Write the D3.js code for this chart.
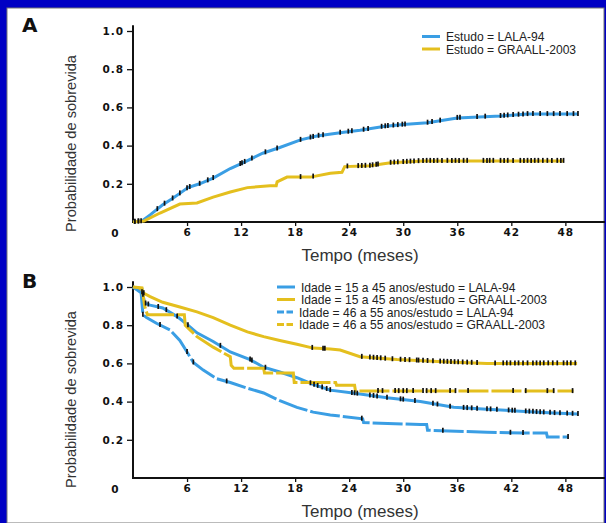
<!DOCTYPE html>
<html><head><meta charset="utf-8">
<script src="https://cdn.jsdelivr.net/npm/d3@7"></script>
<style>
html,body{margin:0;padding:0;background:#0000c4;}
svg{display:block;}
.tick text{font-family:"DejaVu Sans",sans-serif;font-weight:bold;font-size:10.5px;letter-spacing:1px;fill:#111;}
</style></head>
<body>
<svg id="c" width="606" height="523"></svg>
<script>
// ---------- DATA ----------
const xTickValues = [6, 12, 18, 24, 30, 36, 42, 48];
const yTickValues = [0.2, 0.4, 0.6, 0.8, 1.0];
const originLabel = "0";
const xTitle = "Tempo (meses)";
const yTitle = "Probabilidade de sobrevida";

const legendA = ["Estudo = LALA-94", "Estudo = GRAALL-2003"];
const legendB = ["Idade = 15 a 45 anos/estudo = LALA-94",
                 "Idade = 15 a 45 anos/estudo = GRAALL-2003",
                 "Idade = 46 a 55 anos/estudo = LALA-94",
                 "Idade = 46 a 55 anos/estudo = GRAALL-2003"];

// Panel A: [month, probability]
const aLala = [[0,0],[1,0.005],[1.9,0.037],[3.3,0.09],[4.3,0.12],[5.2,0.15],[6.1,0.18],[7.4,0.20],[8.9,0.23],[10.8,0.28],[12.2,0.31],[14.4,0.36],[16.3,0.39],[18.6,0.43],[20.4,0.45],[23.4,0.47],[25.2,0.48],[27.8,0.50],[30,0.51],[32.7,0.52],[36,0.545],[40.8,0.555],[43.8,0.565],[49.4,0.565]];
const aGraall = [[0,0],[1.2,0.005],[3.0,0.047],[5.2,0.094],[7.1,0.10],[8.9,0.13],[10.8,0.157],[12.7,0.18],[15.2,0.19],[15.9,0.19],[16,0.21],[17.1,0.235],[19.7,0.235],[21.9,0.255],[23.2,0.26],[23.5,0.29],[26.3,0.295],[28.6,0.31],[32.2,0.32],[47.8,0.32]];
const aLalaCens = [0.2,0.6,0.9,2.7,3.5,4.4,5.2,6.0,6.3,7.4,8.3,8.9,11.9,12.1,12.4,13.2,14.7,16,18.6,19.7,20,20.6,21.1,23,23.9,24.3,25.6,26.1,27.6,28,28.3,28.9,29.4,29.9,30.2,32.7,33.2,34.1,36,36.3,38.2,39.1,40.8,41.2,41.6,42.2,42.8,43.3,43.8,44.4,45.2,46,46.7,47.4,48.2,48.9,49.4];
const aGraallCens = [0.2,0.6,18.6,20,23.8,25,25.4,25.8,26.3,26.6,27,27.2,28.6,29,29.4,30,30.4,30.8,31.2,31.7,32.2,32.6,33,33.4,33.8,34.3,34.9,35.4,35.8,36.2,36.7,37.1,38.9,39.3,39.6,40,40.8,41.2,41.6,42.2,43,43.4,43.8,44.2,44.6,45,45.5,46,46.5,47.1,47.5,47.8];

// Panel B
const bYoungLala = [[0,1],[1.0,0.99],[1.1,0.96],[1.3,0.915],[1.9,0.905],[3.3,0.89],[4.9,0.845],[6.1,0.80],[7.1,0.76],[8.9,0.715],[10.8,0.66],[13,0.62],[14.5,0.58],[16.3,0.555],[18.2,0.525],[20,0.49],[21.9,0.46],[24.4,0.445],[28.2,0.42],[31.9,0.40],[35.6,0.37],[39.3,0.36],[43,0.35],[46.7,0.34],[49.4,0.335]];
const bYoungGraall = [[0,1],[1.1,0.97],[1.9,0.95],[3.3,0.92],[5.2,0.895],[7.1,0.87],[8.9,0.84],[10.8,0.80],[12.7,0.765],[14.5,0.74],[16.3,0.72],[18.2,0.70],[20,0.68],[21.9,0.675],[23,0.67],[25.2,0.635],[29.3,0.62],[33.8,0.61],[39.3,0.60],[49.3,0.60]];
const bOldLala = [[0,1],[0.9,0.97],[1.1,0.855],[1.5,0.84],[2.6,0.81],[4.1,0.775],[5.2,0.72],[6,0.66],[6.7,0.605],[7.8,0.565],[9.3,0.52],[10.8,0.50],[12.7,0.47],[14.5,0.445],[16.3,0.405],[18.2,0.37],[20,0.345],[21.9,0.33],[25.5,0.31],[25.6,0.29],[31.9,0.28],[32.6,0.28],[32.7,0.25],[39.3,0.24],[43.3,0.235],[45.9,0.235],[46,0.215],[48.3,0.215]];
const bOldGraall = [[0,1],[1.0,0.995],[1.3,0.90],[1.6,0.855],[5.7,0.855],[5.8,0.80],[7.1,0.74],[8.9,0.685],[10.8,0.635],[10.9,0.59],[11.2,0.575],[14.5,0.575],[14.6,0.55],[17.8,0.55],[17.9,0.50],[22.5,0.50],[22.6,0.485],[24.6,0.485],[24.7,0.455],[48.9,0.455]];
const bYoungLalaCens = [1.1,1.4,1.7,2.8,3.7,4.9,6.1,9.7,13,13.2,14.7,19.7,20.1,20.5,21,21.5,21.9,24.3,24.6,24.9,26.3,26.7,27.1,28.2,29.7,30,31.3,33.3,33.8,35.2,36.7,37.1,37.6,38.2,39.3,39.7,40.4,41.7,42.1,42.4,43.6,44,44.4,44.8,45.2,45.6,46.3,46.8,47.4,48.2,48.8,49.4];
const bYoungGraallCens = [1.0,1.2,19.9,21.1,21.3,25.4,26.3,26.7,27.1,27.5,28,28.8,29.7,30.2,30.7,31.5,31.7,32.2,32.7,33.3,34.1,34.5,34.9,35.3,35.7,36.1,36.6,37.1,37.6,38.2,40.2,41.1,41.5,41.9,42.4,42.8,43.3,43.8,44.4,44.8,45.2,45.6,46.1,46.6,47.1,47.8,48.2,48.6,49.1];
const bOldLalaCens = [1.1,3,6,6.7,10.4,25.4,34.4,41.9,43.3,48.3];
const bOldGraallCens = [27.2,27.7,29.1,29.5,30,30.4,31.1,32.2,32.6,33.1,33.6,35.2,35.8,37.2,42.2,43.6,46,46.7,48.8];

// ---------- DRAW ----------
const BLUE = "#3a9ee4", YELLOW = "#e4bf1e";
const svg = d3.select("#c");
svg.append("rect").attr("x",7).attr("y",8).attr("width",597).attr("height",515)
  .attr("fill","#fff").attr("stroke","#777").attr("stroke-width",1);

const x = d3.scaleLinear().domain([0, 52.4]).range([133, 605]);

function interp(series, t){
  for(let i=1;i<series.length;i++){
    if(t<=series[i][0]){
      const a=series[i-1], b=series[i];
      const f=(t-a[0])/((b[0]-a[0])||1);
      return a[1]+f*(b[1]-a[1]);
    }
  }
  return series[series.length-1][1];
}

function panel(top, bottom, letter, curves, legend, legendX, legendY, legendStep){
  const y = d3.scaleLinear().domain([0,1]).range([bottom, top]);
  const g = svg.append("g");
  g.append("text").attr("x",22).attr("y",top+1).text(letter)
    .attr("font-family","DejaVu Sans, sans-serif").attr("font-weight","bold").attr("font-size",20).attr("fill","#111");
  const ya = g.append("g").attr("transform",`translate(${x(0)},0)`)
    .call(d3.axisLeft(y).tickValues(yTickValues).tickFormat(d3.format(".1f")).tickSize(6).tickPadding(3));
  ya.select(".domain").remove();
  ya.selectAll(".tick line").attr("stroke","#111").attr("stroke-width",1.3);
  const xa = g.append("g").attr("transform",`translate(0,${y(0)})`)
    .call(d3.axisBottom(x).tickValues(xTickValues).tickSize(4).tickPadding(3));
  xa.select(".domain").remove();
  xa.selectAll(".tick line").attr("stroke","#111").attr("stroke-width",1.3);
  g.append("line").attr("x1",x(0)).attr("x2",x(0)).attr("y1",y(1.03)).attr("y2",y(0)+1)
    .attr("stroke","#111").attr("stroke-width",2);
  g.append("line").attr("x1",x(0)).attr("x2",x(52.4)).attr("y1",y(0)).attr("y2",y(0))
    .attr("stroke","#111").attr("stroke-width",2);
  g.append("text").attr("x",x(0)-18).attr("y",y(0)+15).text(originLabel)
    .attr("text-anchor","middle").attr("font-family","DejaVu Sans, sans-serif").attr("font-weight","bold").attr("font-size",10.5).attr("fill","#111");
  g.append("text").attr("x",(x(0)+x(52.4))/2 - 9).attr("y",y(0)+39).text(xTitle)
    .attr("text-anchor","middle").attr("font-family","Liberation Sans, Arial, sans-serif").attr("font-weight","normal").attr("font-size",17).attr("fill","#333");
  g.append("text").attr("transform",`translate(76,${(top+bottom)/2+17}) rotate(-90)`).text(yTitle)
    .attr("text-anchor","middle").attr("font-family","Liberation Sans, Arial, sans-serif").attr("font-weight","normal").attr("font-size",14.6).attr("fill","#333");
  const line = d3.line().x(d=>x(d[0])).y(d=>y(d[1]));
  curves.forEach(c=>{
    g.append("path").datum(c.data).attr("d",line).attr("fill","none")
      .attr("stroke",c.color).attr("stroke-width",3).attr("stroke-linejoin","miter")
      .attr("stroke-dasharray",c.dash||null);
  });
  curves.forEach(c=>{
    g.selectAll(null).data(c.cens).enter().append("line")
      .attr("x1",d=>x(d)).attr("x2",d=>x(d))
      .attr("y1",d=>y(interp(c.data,d))-3).attr("y2",d=>y(interp(c.data,d))+2)
      .attr("stroke","#111").attr("stroke-width",1.7);
  });
  legend.forEach((txt,i)=>{
    const c = curves[i];
    const ly = legendY + i*legendStep;
    g.append("line").attr("x1",legendX).attr("x2",legendX+(c.dash?16:18)).attr("y1",ly).attr("y2",ly)
      .attr("stroke",c.color).attr("stroke-width",3).attr("stroke-dasharray",c.dash?"7,2.5":null);
    g.append("text").attr("x",legendX+(c.dash?22:24)).attr("y",ly+4.5).text(txt)
      .attr("font-family","Liberation Sans, Arial, sans-serif").attr("font-size",12.1).attr("fill","#222");
  });
}

panel(31, 222, "A",
  [{data:aLala,color:BLUE,cens:aLalaCens},{data:aGraall,color:YELLOW,cens:aGraallCens}],
  legendA, 422, 36.5, 12.5);

panel(287, 478, "B",
  [{data:bYoungLala,color:BLUE,cens:bYoungLalaCens},
   {data:bYoungGraall,color:YELLOW,cens:bYoungGraallCens},
   {data:bOldLala,color:BLUE,dash:"30,3",cens:bOldLalaCens},
   {data:bOldGraall,color:YELLOW,dash:"30,3",cens:bOldGraallCens}],
  legendB, 277, 287, 12.5);
</script>
</body></html>
